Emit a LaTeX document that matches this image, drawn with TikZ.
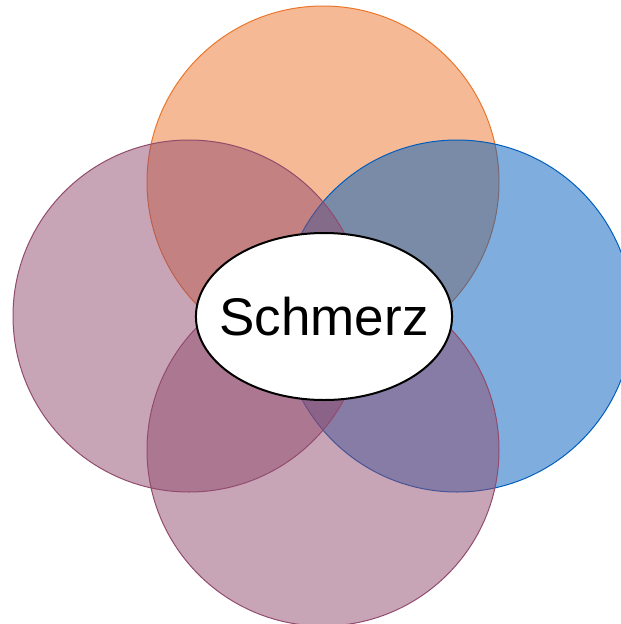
\documentclass[tikz,border=0pt]{standalone}
\usepackage{fontspec}
\setmainfont{Liberation Sans}
\usetikzlibrary{shapes.geometric}

\definecolor{painorange}{RGB}{235,117,43}
\definecolor{painblue}{RGB}{0,93,189}
\definecolor{painpurple}{RGB}{145,75,109}

\tikzset{
	petal/.style={circle, minimum size=352pt, inner sep=0pt, line width=1pt, fill opacity=0.5},
	core/.style={ellipse, draw, fill=white, line width=2pt, minimum height=167pt, inner xsep=-14pt, inner ysep=0pt, font=\fontsize{53}{60}\selectfont}
}

\begin{document}
\begin{tikzpicture}[x=1pt, y=-1pt]

	\useasboundingbox (0, 0) rectangle (621, 624);

	\node (top) [petal, draw=painorange, fill=painorange] at (323, 182) {};
	\node (right) [petal, draw=painblue, fill=painblue] at (457, 316) {};
	\node (left) [petal, draw=painpurple, fill=painpurple] at (189, 316) {};
	\node (bottom) [petal, draw=painpurple, fill=painpurple] at (323, 450) {};

	\node (schmerz) [core] at (324, 316.5) {Schmerz};

\end{tikzpicture}
\end{document}
